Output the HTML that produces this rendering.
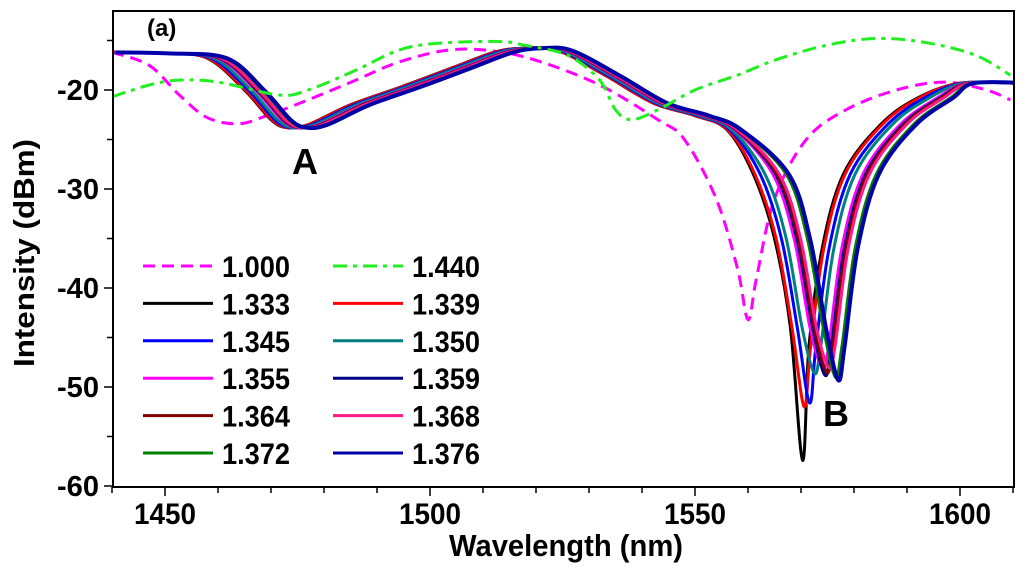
<!DOCTYPE html>
<html><head><meta charset="utf-8">
<style>
html,body{margin:0;padding:0;background:#fff;}
svg{display:block;font-family:"Liberation Sans",Arial,sans-serif;font-weight:bold;}
</style></head>
<body>
<svg id="chart" width="1024" height="571" viewBox="0 0 1024 571" xmlns="http://www.w3.org/2000/svg">
<g id="axes"></g>
<g id="series"></g>
<g id="legend"></g>
<text x="147" y="36" font-size="24">(a)</text>
<text x="292" y="174" font-size="36">A</text>
<text x="823" y="426" font-size="36">B</text>
<text x="449" y="556" font-size="31" textLength="234" lengthAdjust="spacingAndGlyphs">Wavelength (nm)</text>
<text transform="translate(34,367) rotate(-90)" font-size="29" textLength="228" lengthAdjust="spacingAndGlyphs">Intensity (dBm)</text>
</svg>
<script>
// ---- data ----
const xTicks = [1450, 1500, 1550, 1600];
const yTicks = [-60, -50, -40, -30, -20];
const seriesLabels = ["1.333","1.339","1.345","1.350","1.355","1.359","1.364","1.368","1.372","1.376"];
const seriesColors = ["#000000","#ff0000","#0000ff","#008080","#ff00ff","#000080","#800000","#ff1a8c","#008000","#0000a8"];
// dip B wavelength (nm) and depth (dBm) per family series
const dipB = [1570.3, 1570.6, 1571.6, 1572.5, 1574.0, 1574.5, 1574.8, 1575.2, 1576.5, 1577.0];
const dipDepth = [-57.4, -52.0, -51.6, -48.6, -48.0, -48.8, -48.5, -48.0, -49.0, -49.3];
// template shape
const template = [[1440,-16.2],[1450,-16.3],[1458,-16.8],[1465,-20],[1470,-23],[1473,-23.8],[1477,-23.5],[1485,-21.5],[1495,-19.6],[1505,-17.6],[1512,-16.2],[1517,-15.8],[1524,-16],[1533,-18.5],[1542,-21.3],[1550,-22.6],[1556,-24],[1561,-28.5],[1565,-35],[1568,-44],[1570.3,-57.4],[1571.5,-46],[1574,-36],[1578,-28.5],[1585,-23.5],[1592,-20.8],[1600,-19.3],[1610,-19.3]];
const air = [[1440,-16.2],[1447,-17.5],[1452.7,-20.5],[1458,-22.8],[1464,-23.4],[1469.6,-22.5],[1477,-21],[1486,-19],[1494,-17.2],[1503,-16],[1511,-16],[1520,-17],[1532,-19.5],[1543,-23],[1548,-25],[1554,-31],[1558,-38],[1560,-43.2],[1561.6,-39],[1565,-31],[1571,-25],[1578.5,-22],[1588,-20],[1597,-19.2],[1605,-20],[1609.5,-21]];
const oil = [[1440,-20.7],[1447,-19.5],[1452.7,-19],[1460,-19.2],[1471.5,-20.5],[1477,-20],[1486,-18],[1494,-16],[1501,-15.3],[1512.8,-15.1],[1518,-15.5],[1526,-16.5],[1532,-19],[1535,-22],[1538,-23],[1543,-22],[1550,-20],[1558,-18.5],[1565,-17],[1574.7,-15.5],[1584,-14.8],[1593.5,-15.2],[1603,-16.5],[1609.5,-18.5]];

// ---- scales ----
const X0=113, X1=1014, Y0=11, Y1=487;
const xs = nm => 165 + (nm-1450)*5.3;
const ys = db => 90 + (-20-db)*9.9;
const NS="http://www.w3.org/2000/svg";
function mk(tag, attrs, parent){const e=document.createElementNS(NS,tag);for(const k in attrs)e.setAttribute(k,attrs[k]);parent.appendChild(e);return e;}
function smooth(pts){
  let d="M"+pts[0][0].toFixed(1)+","+pts[0][1].toFixed(1);
  for(let i=0;i<pts.length-1;i++){
    const p0=pts[Math.max(0,i-1)],p1=pts[i],p2=pts[i+1],p3=pts[Math.min(pts.length-1,i+2)];
    const c1=[p1[0]+(p2[0]-p0[0])/6,p1[1]+(p2[1]-p0[1])/6];
    const c2=[p2[0]-(p3[0]-p1[0])/6,p2[1]-(p3[1]-p1[1])/6];
    d+=" C"+c1[0].toFixed(1)+","+c1[1].toFixed(1)+" "+c2[0].toFixed(1)+","+c2[1].toFixed(1)+" "+p2[0].toFixed(1)+","+p2[1].toFixed(1);
  }
  return d;
}
const axes=document.getElementById('axes');
const sg=document.getElementById('series');
const lg=document.getElementById('legend');

const frame=mk('rect',{x:X0,y:Y0,width:X1-X0,height:Y1-Y0,fill:'none',stroke:'#000','stroke-width':2},axes);


for(let v=1440; v<=1610; v+=10){
  const major = xTicks.includes(v);
  const t=mk('line',{x1:xs(v),x2:xs(v),y1:Y1,y2:Y1+(major?9:6),stroke:'#000','stroke-width':1.5},axes);
  
  
}
xTicks.forEach(v=>{
  const t=mk('text',{x:xs(v),y:524,'text-anchor':'middle','font-size':30,textLength:62,lengthAdjust:'spacingAndGlyphs'},axes);
  t.textContent=v;
  
  
});
for(let v=-60; v<=-15; v+=5){
  const major = yTicks.includes(v);
  const t=mk('line',{x1:X0-(major?9:6),x2:X0,y1:ys(v),y2:ys(v),stroke:'#000','stroke-width':1.5},axes);
  
  
}
yTicks.forEach(v=>{
  const t=mk('text',{x:99,y:ys(v)+10,'text-anchor':'end','font-size':29,textLength:42,lengthAdjust:'spacingAndGlyphs'},axes);
  t.textContent=v;
  
  
});

const defs=mk('defs',{},sg);
const cp=mk('clipPath',{id:'clip'},defs);
mk('rect',{x:X0+1,y:Y0+1,width:X1-X0-2,height:Y1-Y0-2},cp);
sg.setAttribute('clip-path','url(#clip)');

const pAir=mk('path',{d:smooth(air.map(p=>[xs(p[0]),ys(p[1])])),fill:'none',stroke:'#ff00ff','stroke-width':3,'stroke-dasharray':'12,7'},sg);



const tplDip = 1570.3;
seriesLabels.forEach((lab,i)=>{
  const d = dipB[i]-tplDip;
  const pts = template.map(p=>{
    let nm=p[0], db=p[1];
    if(nm<=1450) nm=nm+0.1*d;
    else if(nm<=1517) nm=nm+0.55*d;
    else if(nm<=1556) nm=nm+0.4*d;
    else if(nm<=1592) nm=nm+d;
    else nm=nm+0.4*d;
    if(p[0]===tplDip) db=dipDepth[i];
    return [xs(nm),ys(db)];
  });
  const path=mk('path',{d:smooth(pts),fill:'none',stroke:seriesColors[i],'stroke-width':i===9?4:3},sg);
  
  
});

const pOil=mk('path',{d:smooth(oil.map(p=>[xs(p[0]),ys(p[1])])),fill:'none',stroke:'#22ee22','stroke-width':3,'stroke-dasharray':'14,6,4,6'},sg);



const legendItems=[["1.000","#ff00ff","12,7"],["1.440","#22ee22","14,6,4,6"]].concat(seriesLabels.map((l,i)=>[l,seriesColors[i],null]));
legendItems.forEach((it,k)=>{
  const col=k%2, row=Math.floor(k/2);
  const lx = col===0?143:333, ty=266+row*37.4;
  const g=mk('g',{},lg);
  
  
  const a={x1:lx,x2:lx+70,y1:ty,y2:ty,stroke:it[1],'stroke-width':3};
  if(it[2]) a['stroke-dasharray']=it[2];
  mk('line',a,g);
  const t=mk('text',{x:lx+79,y:ty+11,'font-size':30,textLength:68,lengthAdjust:'spacingAndGlyphs'},g);
  t.textContent=it[0];
});
</script>
</body></html>
